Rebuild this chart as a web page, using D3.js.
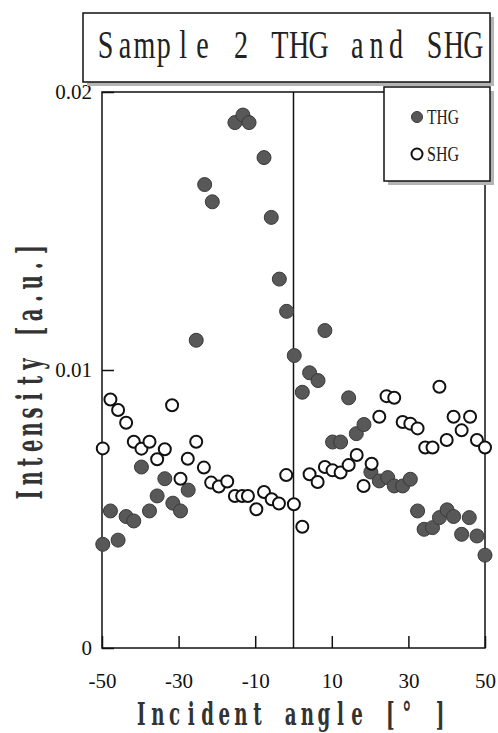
<!DOCTYPE html>
<html>
<head>
<meta charset="utf-8">
<script src="https://cdn.jsdelivr.net/npm/d3@7"></script>
<style>
  body { margin: 0; background: #fff; }
  svg { display: block; }
</style>
</head>
<body>
<div id="chart"></div>
<script>
// incident angle [deg] and intensity [a.u.]
const thgAngle = [-49.8, -47.8, -45.8, -43.7, -41.7, -39.7, -37.6, -35.6, -33.6, -31.5, -29.5, -27.5,
  -25.4, -23.2, -21.2, -15.3, -13.2, -11.6, -7.7, -5.8, -3.7, -1.8, 0.2,
  2.3, 4.2, 6.4, 8.2, 10.2, 12.3, 14.4, 16.4, 18.4, 20.2, 22.4, 24.6, 26.3, 28.5, 30.5,
  32.4, 34.1, 36.3, 38.1, 40.1, 41.8, 43.9, 45.9, 47.9, 50];
const thgValue = [0.00373, 0.00493, 0.00388, 0.00473, 0.00457, 0.00651, 0.00493, 0.00547, 0.00609, 0.00521, 0.00493, 0.00568,
  0.01107, 0.01667, 0.01605, 0.0189, 0.01917, 0.0189, 0.01764, 0.01549, 0.01327, 0.01211, 0.01052,
  0.0092, 0.0099, 0.00962, 0.01142, 0.00741, 0.00741, 0.009, 0.00771, 0.00804, 0.00633, 0.00601, 0.00613, 0.00583, 0.00583, 0.00607,
  0.00493, 0.00427, 0.00433, 0.00469, 0.00497, 0.00473, 0.00409, 0.00469, 0.00403, 0.00334];

const shgAngle = [-49.8, -47.8, -45.8, -43.7, -41.7, -39.7, -37.6, -35.6, -33.6, -31.7, -29.5, -27.6,
  -25.4, -23.4, -21.5, -19.5, -17.3, -15.3, -13.4, -11.9, -9.7, -7.7, -5.7, -3.8, -1.9, 0.1,
  2.3, 4.2, 6.3, 8.2, 10.2, 12.3, 14.4, 16.5, 18.3, 20.4, 22.4, 24.3, 26.3, 28.5, 30.5,
  32.4, 34.4, 36.3, 38.1, 40.0, 41.8, 43.9, 46.1, 47.9, 50];
const shgValue = [0.00718, 0.00894, 0.00856, 0.0081, 0.00742, 0.00717, 0.00742, 0.00679, 0.00715, 0.00873, 0.00609, 0.00681,
  0.00742, 0.00649, 0.00595, 0.00581, 0.00599, 0.00547, 0.00547, 0.00547, 0.00499, 0.00561, 0.00535, 0.0052, 0.00622, 0.00517,
  0.00436, 0.00625, 0.00597, 0.00651, 0.00639, 0.00631, 0.00658, 0.00694, 0.00583, 0.00663, 0.00832, 0.00906, 0.009, 0.00813, 0.00807,
  0.0079, 0.00721, 0.00721, 0.0094, 0.00748, 0.00832, 0.00783, 0.00832, 0.00748, 0.00721];

const xTicks = [-50, -30, -10, 10, 30, 50];
const yTicks = [0, 0.01, 0.02];
const yTickLabels = ['0', '0.01', '0.02'];

const width = 498;
const height = 733;
const margin = {top: 92, right: 13, bottom: 85, left: 102};

const svg = d3.select('#chart').append('svg')
    .attr('width', width)
    .attr('height', height);

const x = d3.scaleLinear().domain([-50, 50]).range([margin.left, width - margin.right]);
const y = d3.scaleLinear().domain([0, 0.02]).range([height - margin.bottom, margin.top]);

// box with the grey shadow used for title and legend
function shadowBox(x0, y0, w, h) {
    svg.append('rect')
        .attr('x', x0 + 4).attr('y', y0 + 4)
        .attr('width', w).attr('height', h)
        .attr('fill', '#b4b4b4');
    svg.append('rect')
        .attr('x', x0).attr('y', y0)
        .attr('width', w).attr('height', h)
        .attr('fill', '#fff')
        .attr('stroke', '#111')
        .attr('stroke-width', 1.5);
}

// narrow fixed-pitch text: every glyph sits in its own cell, squeezed horizontally
function monoText(parent, str, left, pitch, sx) {
    const xs = Array.from(str).map((c, i) => (left + pitch * (i + 0.5)) / sx);
    return parent.append('text')
        .attr('x', xs.join(' '))
        .attr('y', 0)
        .attr('text-anchor', 'middle')
        .attr('transform', `scale(${sx},1)`)
        .text(str);
}

// plot frame
svg.append('rect')
    .attr('x', x(-50)).attr('y', y(0.02))
    .attr('width', x(50) - x(-50)).attr('height', y(0) - y(0.02))
    .attr('fill', 'none')
    .attr('stroke', '#111')
    .attr('stroke-width', 1.5);

// vertical line at normal incidence
svg.append('line')
    .attr('x1', x(0)).attr('x2', x(0))
    .attr('y1', y(0.02)).attr('y2', y(0))
    .attr('stroke', '#111')
    .attr('stroke-width', 1.5);

const xAxis = svg.append('g')
    .attr('transform', `translate(0,${y(0)})`)
    .call(d3.axisBottom(x).tickValues(xTicks).tickFormat(d => String(d))
        .tickSizeInner(-12).tickSizeOuter(0).tickPadding(25));
xAxis.select('.domain').remove();
xAxis.selectAll('line').attr('stroke', '#111').attr('stroke-width', 1.5);
xAxis.selectAll('text')
    .attr('fill', '#111')
    .style('font-family', '"Liberation Serif", serif')
    .style('font-size', '21px');

const yAxis = svg.append('g')
    .attr('transform', `translate(${x(-50)},0)`)
    .call(d3.axisLeft(y).tickValues(yTicks).tickFormat((d, i) => yTickLabels[i])
        .tickSizeInner(-12).tickSizeOuter(0).tickPadding(10));
yAxis.select('.domain').remove();
yAxis.selectAll('line').attr('stroke', '#111').attr('stroke-width', 1.5);
yAxis.selectAll('text')
    .attr('fill', '#111')
    .style('font-family', '"Liberation Serif", serif')
    .style('font-size', '21px');

// THG filled, SHG open on top
svg.append('g').selectAll('circle')
    .data(thgAngle.map((a, i) => [a, thgValue[i]]))
    .enter().append('circle')
    .attr('cx', d => x(d[0]))
    .attr('cy', d => y(d[1]))
    .attr('r', 7)
    .attr('fill', '#585858')
    .attr('stroke', '#3a3a3a')
    .attr('stroke-width', 1);

svg.append('g').selectAll('circle')
    .data(shgAngle.map((a, i) => [a, shgValue[i]]))
    .enter().append('circle')
    .attr('cx', d => x(d[0]))
    .attr('cy', d => y(d[1]))
    .attr('r', 6)
    .attr('fill', '#fff')
    .attr('stroke', '#111')
    .attr('stroke-width', 2);

// title
shadowBox(83, 13, 407, 69);
const title = svg.append('g').attr('transform', 'translate(0,58)');
monoText(title, 'Sample 2 THG and SHG', 96, 19.35, 0.72)
    .style('font-family', '"Liberation Serif", serif')
    .style('font-size', '39px')
    .attr('fill', '#222');

// legend
shadowBox(384, 87, 106, 94);
const legend = [
    {label: 'THG', cy: 117, fill: '#585858', stroke: '#3a3a3a', sw: 1},
    {label: 'SHG', cy: 154, fill: '#fff', stroke: '#111', sw: 2}
];
legend.forEach(l => {
    svg.append('circle')
        .attr('cx', 417).attr('cy', l.cy).attr('r', 5.5)
        .attr('fill', l.fill).attr('stroke', l.stroke).attr('stroke-width', l.sw);
    svg.append('text')
        .attr('x', 427).attr('y', l.cy + 7)
        .attr('textLength', 32)
        .attr('lengthAdjust', 'spacingAndGlyphs')
        .style('font-family', '"Liberation Serif", serif')
        .style('font-size', '21px')
        .attr('fill', '#222')
        .text(l.label);
});

// axis titles
const xTitle = svg.append('g').attr('transform', 'translate(0,725)');
monoText(xTitle, 'Incident angle [° ]', 133, 16.6, 0.57)
    .style('font-family', '"DejaVu Serif", serif')
    .style('font-weight', 'bold')
    .style('font-size', '32px')
    .attr('fill', '#333');

const yTitle = svg.append('g').attr('transform', 'translate(42,372) rotate(-90)');
monoText(yTitle, 'Intensity [a.u.]', -131, 16.35, 0.56)
    .style('font-family', '"DejaVu Serif", serif')
    .style('font-weight', 'bold')
    .style('font-size', '35px')
    .attr('fill', '#333');
</script>
</body>
</html>
